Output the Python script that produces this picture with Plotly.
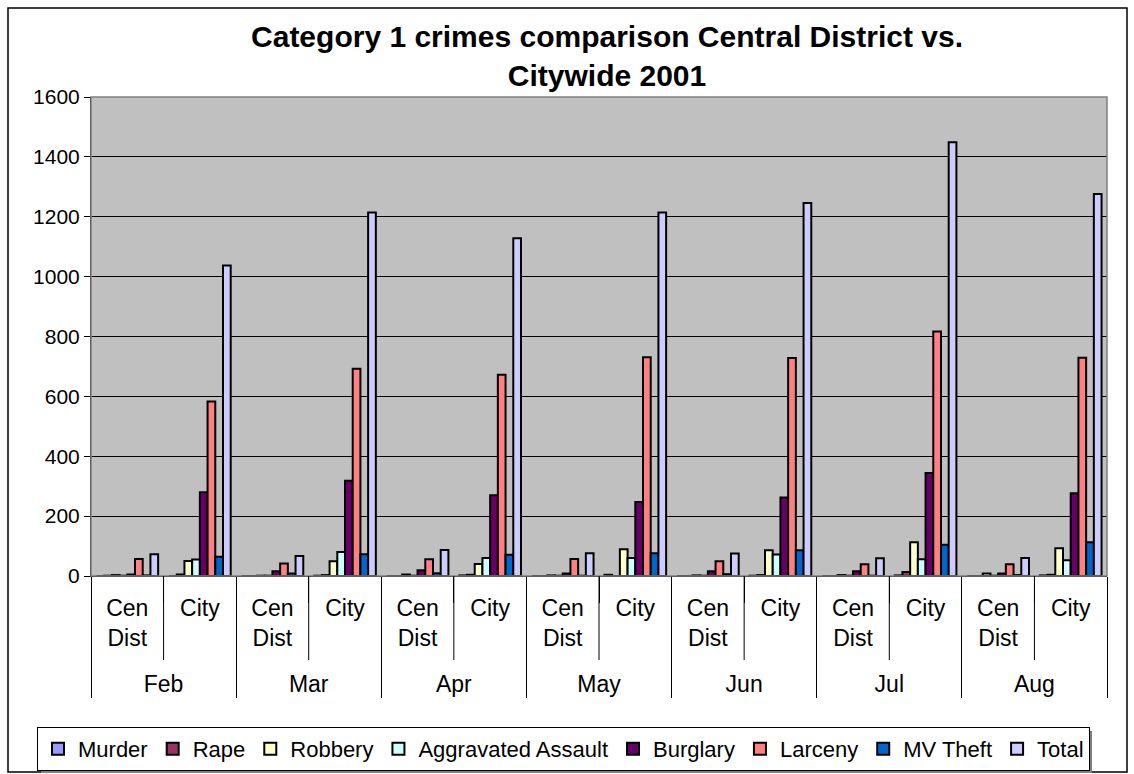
import plotly.graph_objects as go

# Months and the two areas compared each month
months = ["Feb", "Mar", "Apr", "May", "Jun", "Jul", "Aug"]
areas = ["Cen<br>Dist<br>&nbsp;", "City"]

# Monthly counts, Central District
murder_cen = [0, 0, 0, 0, 0, 0, 0]
rape_cen = [1, 0, 0, 0, 0, 0, 0]
robbery_cen = [3, 1, 5, 2, 2, 3, 8]
assault_cen = [1, 1, 1, 1, 1, 1, 1]
burglary_cen = [5, 16, 19, 8, 16, 16, 8]
larceny_cen = [57, 42, 56, 57, 49, 39, 39]
mvtheft_cen = [2, 8, 9, 1, 6, 1, 3]
total_cen = [73, 67, 87, 76, 75, 59, 60]

# Monthly counts, citywide
murder_city = [0, 1, 2, 4, 1, 2, 2]
rape_city = [5, 3, 4, 0, 3, 13, 4]
robbery_city = [50, 49, 40, 89, 86, 113, 93]
assault_city = [55, 80, 60, 60, 72, 56, 53]
burglary_city = [280, 318, 270, 247, 262, 344, 276]
larceny_city = [583, 692, 672, 731, 728, 817, 729]
mvtheft_city = [64, 73, 71, 76, 86, 104, 113]
total_city = [1037, 1214, 1128, 1214, 1246, 1449, 1276]

series_names = ["Murder", "Rape", "Robbery", "Aggravated Assault",
                "Burglary", "Larceny", "MV Theft", "Total"]
series_colors = ["#9999FF", "#993366", "#FFFFCC", "#CCFFFF",
                 "#660066", "#FF8080", "#0066CC", "#CCCCFF"]
cen_values = [murder_cen, rape_cen, robbery_cen, assault_cen,
              burglary_cen, larceny_cen, mvtheft_cen, total_cen]
city_values = [murder_city, rape_city, robbery_city, assault_city,
               burglary_city, larceny_city, mvtheft_city, total_city]

# Two-level category axis: month on the outside, area inside
x_outer = [m for m in months for _ in areas]
x_inner = [a for _ in months for a in areas]

fig = go.Figure()
for name, color, cen, city in zip(series_names, series_colors, cen_values, city_values):
    y = []
    for c_val, t_val in zip(cen, city):
        y.extend([c_val, t_val])
    fig.add_trace(go.Bar(
        x=[x_outer, x_inner], y=y, name=name,
        marker=dict(color=color, line=dict(color="black", width=2)),
    ))

FONT = "Liberation Sans, Arial, sans-serif"

# Plot-area box in pixels
L, R, T, B = 91, 27, 97, 198
W, H = 1134, 774
pw, ph = W - L - R, H - T - B


def px_x(p):
    return (p - L) / pw


def px_y(p):
    return (H - B - p) / ph


n_slots = len(months) * len(areas)
shapes = [
    # frame around the whole chart
    dict(type="rect", xref="paper", yref="paper",
         x0=px_x(8), x1=px_x(1127), y0=px_y(772), y1=px_y(8),
         line=dict(color="black", width=1.5), layer="below"),
    # plot-area border
    dict(type="rect", xref="paper", yref="paper",
         x0=0, x1=1, y0=0, y1=1,
         line=dict(color="#808080", width=1.5), layer="above"),
    # legend drop shadow
    dict(type="rect", xref="paper", yref="paper",
         x0=px_x(41), x1=px_x(1092), y0=px_y(773), y1=px_y(731),
         fillcolor="#808080", line=dict(width=0), layer="below"),
]
# separators between the two areas inside each month
for k in range(len(months)):
    xs = (2 * k + 1) / n_slots
    shapes.append(dict(type="line", xref="paper", yref="paper",
                       x0=xs, x1=xs, y0=0, y1=px_y(660),
                       line=dict(color="black", width=1)))

fig.update_layout(
    width=W, height=H,
    margin=dict(l=L, r=R, t=T, b=B, autoexpand=False),
    paper_bgcolor="white",
    plot_bgcolor="#C0C0C0",
    barmode="group",
    bargap=0.15,
    bargroupgap=0,
    font=dict(family=FONT, color="black"),
    title=dict(
        text="<b>Category 1 crimes comparison Central District vs.<br>Citywide 2001</b>",
        x=607 / W, xanchor="center", xref="container",
        y=1 - 47 / H, yanchor="top", yref="container",
        font=dict(size=30, family=FONT, color="black"),
    ),
    showlegend=True,
    legend=dict(
        orientation="h",
        x=px_x(37), xanchor="left", xref="paper",
        y=px_y(727), yanchor="top", yref="paper",
        bgcolor="white", bordercolor="black", borderwidth=1,
        font=dict(size=22, family=FONT),
        itemwidth=30,
        traceorder="normal",
    ),
    shapes=shapes,
)

fig.update_yaxes(
    range=[0, 1600], dtick=200,
    showgrid=True, gridcolor="black", gridwidth=1,
    ticks="outside", ticklen=6, tickcolor="black",
    showline=True, linecolor="black", linewidth=1,
    tickfont=dict(size=21, family=FONT),
    zeroline=False, automargin=False,
)
fig.update_xaxes(
    type="multicategory",
    showline=True, linecolor="black", linewidth=1,
    ticks="outside", ticklen=26, tickcolor="black",
    ticklabelstandoff=11,
    showdividers=True, dividercolor="black", dividerwidth=1,
    tickfont=dict(size=23, family=FONT),
    showgrid=False, automargin=False,
)

fig.write_html("out.html")
